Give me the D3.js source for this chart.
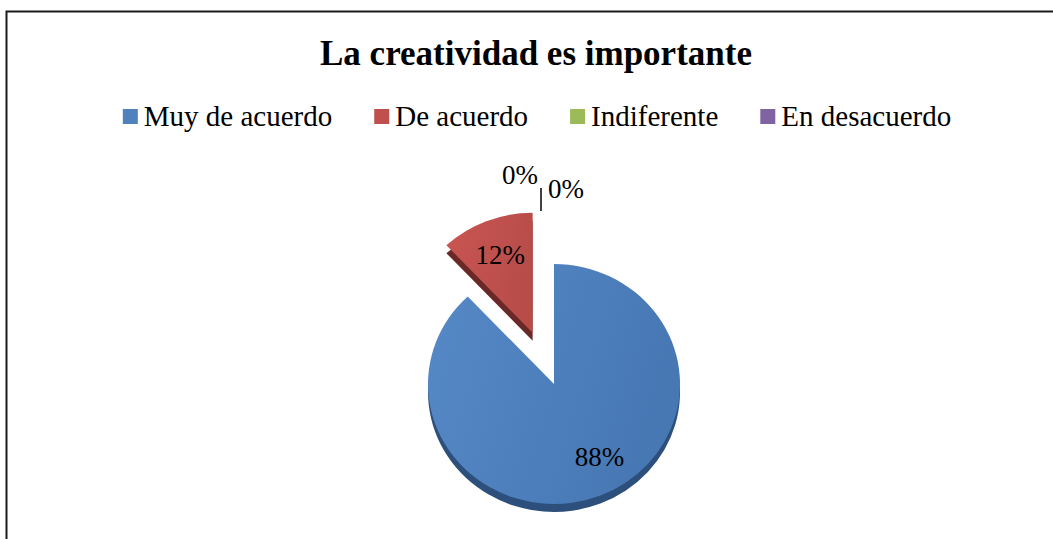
<!DOCTYPE html>
<html>
<head>
<meta charset="utf-8">
<script src="https://cdn.jsdelivr.net/npm/d3@7"></script>
<style>
  body { margin: 0; background: #fff; }
  text { font-family: "Liberation Serif", "Times New Roman", serif; fill: #000; }
</style>
</head>
<body>
<svg id="chart"></svg>
<script>
// Data
const categories = ["Muy de acuerdo", "De acuerdo", "Indiferente", "En desacuerdo"];
const values = [88, 12, 0, 0];
const percentLabels = ["88%", "12%", "0%", "0%"];
const colors = ["#4F81BD", "#C0504D", "#9BBB59", "#8064A2"];
const sideColors = ["#2c4f7c", "#6a2927", "#5a6e33", "#4a3a60"];

const width = 1053, height = 539;
const svg = d3.select("#chart").attr("width", width).attr("height", height);

// chart frame (runs off the right and bottom edge)
svg.append("rect")
    .attr("x", 6.5).attr("y", 11.5)
    .attr("width", width + 20).attr("height", height + 20)
    .attr("fill", "#fff")
    .attr("stroke", "#1a1a1a")
    .attr("stroke-width", 2);

// Title
svg.append("text")
    .attr("x", 536).attr("y", 65)
    .attr("text-anchor", "middle")
    .style("font-size", "35px")
    .style("font-weight", "bold")
    .text("La creatividad es importante");

// Legend
const legend = svg.append("g").attr("class", "legend");
const items = legend.selectAll("g")
    .data(categories)
    .join("g");

items.append("rect")
    .attr("width", 15).attr("height", 15)
    .attr("y", 109)
    .attr("fill", (d, i) => colors[i]);

items.append("text")
    .attr("x", 21).attr("y", 126)
    .style("font-size", "29px")
    .text(d => d);

// lay out legend items centred
let widths = [];
items.each(function() {
    widths.push(21 + d3.select(this).select("text").node().getComputedTextLength());
});
const itemGap = 42;
const total = d3.sum(widths) + itemGap * (widths.length - 1);
let lx = 537 - total / 2;
items.attr("transform", (d, i) => {
    const t = `translate(${lx},0)`;
    lx += widths[i] + itemGap;
    return t;
});

// Pie
const cx = 554, cy = 384;
const r = 126;
const k = 0.952;      // vertical squash for the tilted look
const depth = 8;
const explode = 58;

const defs = svg.append("defs");
const grads = [["#5689c7", "#4778b4"], ["#c95653", "#b84c49"]];
grads.forEach((g, i) => {
    const lg = defs.append("linearGradient")
        .attr("id", "grad" + i)
        .attr("x1", "0%").attr("x2", "100%")
        .attr("y1", "0%").attr("y2", "30%");
    lg.append("stop").attr("offset", "0%").attr("stop-color", g[0]);
    lg.append("stop").attr("offset", "100%").attr("stop-color", g[1]);
});

const pie = d3.pie().sort(null).value(d => d);
const arcs = pie(values);
const arc = d3.arc().innerRadius(0).outerRadius(r);
const labelArc = d3.arc().innerRadius(r * 0.7).outerRadius(r * 0.7);

function offsetOf(d, i) {
    if (i !== 1) return [0, 0];
    const mid = (d.startAngle + d.endAngle) / 2;
    return [explode * Math.sin(mid), -explode * Math.cos(mid) * k];
}

const pieG = svg.append("g").attr("transform", `translate(${cx},${cy})`);

const slices = pieG.selectAll("g.slice")
    .data(arcs.filter(d => d.value > 0))
    .join("g")
    .attr("class", "slice")
    .attr("transform", d => {
        const o = offsetOf(d, d.index);
        return `translate(${o[0]},${o[1]})`;
    });

// side (thickness)
slices.append("path")
    .attr("transform", `translate(0,${depth}) scale(1,${k})`)
    .attr("d", arc)
    .attr("fill", d => sideColors[d.index]);

// top face
slices.append("path")
    .attr("transform", `scale(1,${k})`)
    .attr("d", arc)
    .attr("fill", d => `url(#grad${d.index})`);

// labels inside slices
const labelNudge = [[13, -6], [0, 0]];
arcs.filter(d => d.value > 0).forEach(d => {
    const c = labelArc.centroid(d);
    const o = offsetOf(d, d.index);
    const n = labelNudge[d.index];
    pieG.append("text")
        .attr("x", c[0] + o[0] + n[0])
        .attr("y", c[1] * k + o[1] + n[1])
        .attr("dy", "0.35em")
        .attr("text-anchor", "middle")
        .style("font-size", "27px")
        .text(percentLabels[d.index]);
});

// labels for the empty slices, outside at the top
const zeroNudge = { 2: [-34, -90], 3: [12, -76] };
arcs.filter(d => d.value === 0).forEach(d => {
    const p = arc.centroid(d).map(v => v * 2);   // point on the rim
    const n = zeroNudge[d.index];
    pieG.append("text")
        .attr("x", p[0] + n[0])
        .attr("y", p[1] * k + n[1])
        .attr("dy", "0.35em")
        .attr("text-anchor", "middle")
        .style("font-size", "27px")
        .text(percentLabels[d.index]);
});

// leader line for the last 0% label
pieG.append("line")
    .attr("x1", -13).attr("x2", -13)
    .attr("y1", -r * k - 76).attr("y2", -r * k - 53)
    .attr("stroke", "#000")
    .attr("stroke-width", 1.5);
</script>
</body>
</html>
